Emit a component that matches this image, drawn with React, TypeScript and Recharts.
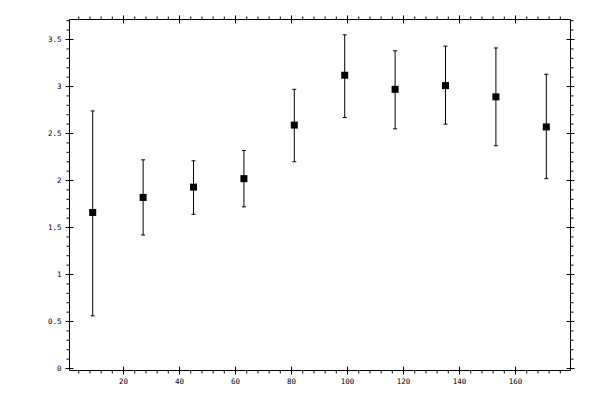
import React from "react";
import { ScatterChart, Scatter, XAxis, YAxis, ErrorBar } from "recharts";

const X_VALUES = [9, 27, 45, 63, 81, 99, 117, 135, 153, 171];
const MEANS = [1.66, 1.82, 1.93, 2.02, 2.59, 3.12, 2.97, 3.01, 2.89, 2.57];
const UPPER = [2.74, 2.22, 2.21, 2.32, 2.97, 3.55, 3.38, 3.43, 3.41, 3.13];
const LOWER = [0.56, 1.42, 1.64, 1.72, 2.2, 2.67, 2.55, 2.6, 2.37, 2.02];

const X_MAJOR = [20, 40, 60, 80, 100, 120, 140, 160];
const X_MINOR = [
  4, 8, 12, 16, 24, 28, 32, 36, 44, 48, 52, 56, 64, 68, 72, 76, 84, 88, 92, 96,
  104, 108, 112, 116, 124, 128, 132, 136, 144, 148, 152, 156, 164, 168, 172, 176,
];
const Y_MAJOR = [0, 0.5, 1, 1.5, 2, 2.5, 3, 3.5];
const Y_MINOR = [
  0.1, 0.2, 0.3, 0.4, 0.6, 0.7, 0.8, 0.9, 1.1, 1.2, 1.3, 1.4, 1.6, 1.7, 1.8,
  1.9, 2.1, 2.2, 2.3, 2.4, 2.6, 2.7, 2.8, 2.9, 3.1, 3.2, 3.3, 3.4, 3.6, 3.7,
];

const X_DOMAIN = [0.71, 179.64];
const Y_DOMAIN = [-0.021, 3.713];

const data = X_VALUES.map((x, i) => ({
  x,
  y: MEANS[i],
  err: [MEANS[i] - LOWER[i], UPPER[i] - MEANS[i]],
}));

const X_TICKS = [...X_MAJOR, ...X_MINOR].sort((a, b) => a - b);
const Y_TICKS = [...Y_MAJOR, ...Y_MINOR].sort((a, b) => a - b);

const FONT = "'DejaVu Sans Mono', monospace";
const MAJ = 4;
const MIN = 3;

const makeTick = (side: "bottom" | "top" | "left" | "right", majors: number[], showLabel: boolean) =>
  (props: any) => {
    const { x, y, payload } = props;
    const v = payload.value;
    const isMajor = majors.indexOf(v) >= 0;
    let line;
    if (side === "bottom" || side === "top") {
      if (isMajor) line = <line x1={x} x2={x} y1={y - MAJ} y2={y + MAJ} stroke="#000" strokeWidth={1} />;
      else if (side === "bottom") line = <line x1={x} x2={x} y1={y} y2={y + MIN} stroke="#000" strokeWidth={1} />;
      else line = <line x1={x} x2={x} y1={y - MIN} y2={y} stroke="#000" strokeWidth={1} />;
    } else {
      if (isMajor) line = <line x1={x - MAJ} x2={x + MAJ} y1={y} y2={y} stroke="#000" strokeWidth={1} />;
      else if (side === "left") line = <line x1={x - MIN} x2={x} y1={y} y2={y} stroke="#000" strokeWidth={1} />;
      else line = <line x1={x} x2={x + MIN} y1={y} y2={y} stroke="#000" strokeWidth={1} />;
    }
    let label = null;
    if (showLabel && isMajor) {
      if (side === "bottom") {
        label = (
          <text x={x} y={y + 11} textAnchor="middle" dominantBaseline="central" fontSize={7.5} fontFamily={FONT} fill="#000">
            {String(v)}
          </text>
        );
      } else if (side === "left") {
        label = (
          <text x={x - 8} y={y} textAnchor="end" dominantBaseline="central" fontSize={7.5} fontFamily={FONT} fill="#000">
            {String(v)}
          </text>
        );
      }
    }
    return (
      <g>
        {line}
        {label}
      </g>
    );
  };

const Square = (props: any) => {
  const { cx, cy } = props;
  return <rect x={cx - 3.5} y={cy - 3.5} width={7} height={7} fill="#000" />;
};

export default function App() {
  return (
    <div style={{ position: "absolute", left: 0, top: 0, width: 600, height: 400, background: "#fff" }}>
      <ScatterChart width={600} height={400} margin={{ top: 0, right: 0, bottom: 0, left: 0 }}>
        <XAxis
          xAxisId="b"
          orientation="bottom"
          dataKey="x"
          type="number"
          domain={X_DOMAIN}
          allowDataOverflow
          ticks={X_TICKS}
          interval={0}
          height={29.5}
          tickSize={0}
          tickMargin={0}
          tickLine={false}
          axisLine={{ stroke: "#000", strokeWidth: 1 }}
          tick={makeTick("bottom", X_MAJOR, true)}
        />
        <XAxis
          xAxisId="t"
          orientation="top"
          dataKey="x"
          type="number"
          domain={X_DOMAIN}
          allowDataOverflow
          ticks={X_TICKS}
          interval={0}
          height={19.5}
          tickSize={0}
          tickMargin={0}
          tickLine={false}
          axisLine={{ stroke: "#000", strokeWidth: 1 }}
          tick={makeTick("top", X_MAJOR, false)}
        />
        <YAxis
          yAxisId="l"
          orientation="left"
          dataKey="y"
          type="number"
          domain={Y_DOMAIN}
          allowDataOverflow
          ticks={Y_TICKS}
          interval={0}
          width={69.5}
          tickSize={0}
          tickMargin={0}
          tickLine={false}
          axisLine={{ stroke: "#000", strokeWidth: 1 }}
          tick={makeTick("left", Y_MAJOR, true)}
        />
        <YAxis
          yAxisId="r"
          orientation="right"
          dataKey="y"
          type="number"
          domain={Y_DOMAIN}
          allowDataOverflow
          ticks={Y_TICKS}
          interval={0}
          width={29.5}
          tickSize={0}
          tickMargin={0}
          tickLine={false}
          axisLine={{ stroke: "#000", strokeWidth: 1 }}
          tick={makeTick("right", Y_MAJOR, false)}
        />
        <Scatter
          data={data}
          xAxisId="b"
          yAxisId="l"
          dataKey="y"
          shape={Square}
          isAnimationActive={false}
        >
          <ErrorBar dataKey="err" direction="y" width={2} stroke="#000" strokeWidth={1} isAnimationActive={false} />
        </Scatter>
        <Scatter data={data} xAxisId="t" yAxisId="r" dataKey="y" shape={() => null} isAnimationActive={false} />
      </ScatterChart>
    </div>
  );
}
